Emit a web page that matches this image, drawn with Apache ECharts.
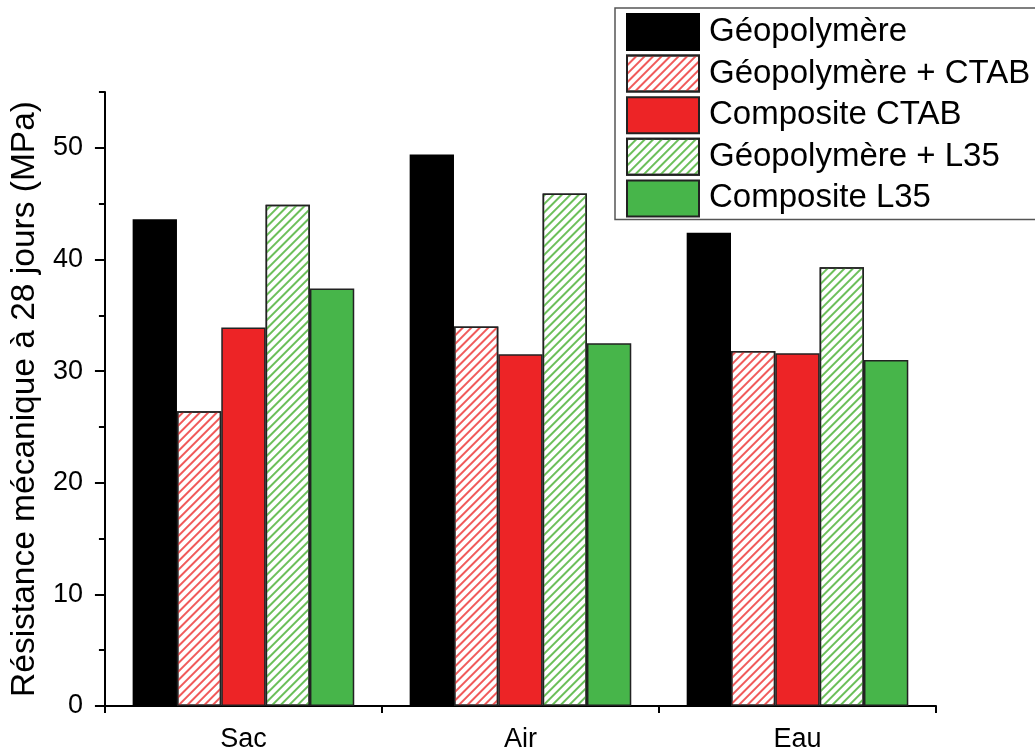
<!DOCTYPE html>
<html>
<head>
<meta charset="utf-8">
<title>Résistance mécanique</title>
<script src="https://cdn.jsdelivr.net/npm/echarts@6/dist/echarts.min.js"></script>
<style>
    html, body { margin: 0; padding: 0; background: #fff; }
    #chart { width: 1035px; height: 753px; }
</style>
</head>
<body>
<div id="chart"></div>
<script>
// 数据
var categories = ['Sac', 'Air', 'Eau'];
var seriesNames = ['Géopolymère', 'Géopolymère + CTAB', 'Composite CTAB', 'Géopolymère + L35', 'Composite L35'];
var geo = [43.6, 49.4, 42.4];
var geoCtab = [26.4, 34.0, 31.8];
var compCtab = [33.9, 31.5, 31.6];
var geoL35 = [44.9, 45.9, 39.3];
var compL35 = [37.4, 32.5, 31.0];
var yMajorTicks = [0, 10, 20, 30, 40, 50];
var yMinorTicks = [5, 15, 25, 35, 45, 55];
var xBoundaryTicks = [0, 1, 2, 3];

var fontName = '"Liberation Sans", Arial, sans-serif';

// 斜线填充
function hatch(color) {
    return {
        color: color,
        symbol: 'rect',
        dashArrayX: [1, 0],
        dashArrayY: [1.4, 3.8],
        rotation: -Math.PI / 4
    };
}

var chart = echarts.init(document.getElementById('chart'));

var barCommon = {
    type: 'bar',
    barGap: '0%',
    barCategoryGap: '20%',
    xAxisIndex: 0,
    yAxisIndex: 0
};

var option = {
    animation: false,
    backgroundColor: '#fff',
    textStyle: {
        fontFamily: fontName,
        color: '#000'
    },
    grid: {
        left: 102,
        right: 99,
        top: 92,
        bottom: 45,
        containLabel: false
    },
    legend: {
        left: 615,
        top: 8,
        orient: 'vertical',
        icon: 'rect',
        itemWidth: 72,
        itemHeight: 36,
        itemGap: 3.6,
        padding: [5, 20, 2, 11],
        borderColor: '#555',
        borderWidth: 1.5,
        backgroundColor: '#fff',
        data: seriesNames,
        textStyle: {
            fontFamily: fontName,
            fontSize: 33,
            lineHeight: 30,
            color: '#000',
            padding: [0, 0, 0, 5]
        }
    },
    xAxis: [{
        type: 'category',
        data: categories,
        boundaryGap: true,
        axisLine: { lineStyle: { color: '#000', width: 2 } },
        axisTick: { alignWithLabel: true, length: 13, lineStyle: { color: '#000', width: 2 } },
        axisLabel: { fontSize: 27, color: '#000', margin: 20, fontFamily: fontName },
        splitLine: { show: false }
    }, {
        // 分类边界的短刻度
        type: 'value',
        min: 0,
        max: 3,
        position: 'bottom',
        axisLine: { show: false },
        axisTick: { show: true, length: 7, customValues: xBoundaryTicks, lineStyle: { color: '#000', width: 2 } },
        axisLabel: { show: false },
        splitLine: { show: false }
    }],
    yAxis: [{
        type: 'value',
        min: 0,
        max: 55,
        name: 'Résistance mécanique à 28 jours (MPa)',
        nameLocation: 'middle',
        nameRotate: 90,
        nameGap: 58,
        nameTextStyle: { fontSize: 33.5, color: '#000', fontFamily: fontName },
        axisLine: { show: true, lineStyle: { color: '#000', width: 2 } },
        axisTick: { show: true, length: 10, customValues: yMajorTicks, lineStyle: { color: '#000', width: 2 } },
        axisLabel: { fontSize: 27, color: '#000', margin: 22, customValues: yMajorTicks, fontFamily: fontName },
        splitLine: { show: false }
    }, {
        // 次刻度
        type: 'value',
        min: 0,
        max: 55,
        position: 'left',
        axisLine: { show: false },
        axisTick: { show: true, length: 6, customValues: yMinorTicks, lineStyle: { color: '#000', width: 2 } },
        axisLabel: { show: false },
        splitLine: { show: false }
    }],
    series: [
        Object.assign({}, barCommon, {
            name: seriesNames[0],
            data: geo,
            itemStyle: { color: '#000', borderColor: '#000', borderWidth: 1.5 }
        }),
        Object.assign({}, barCommon, {
            name: seriesNames[1],
            data: geoCtab,
            itemStyle: { color: '#fff', borderColor: '#222', borderWidth: 1.5, decal: hatch('#f05a5a') }
        }),
        Object.assign({}, barCommon, {
            name: seriesNames[2],
            data: compCtab,
            itemStyle: { color: '#ed2426', borderColor: '#222', borderWidth: 1.5 }
        }),
        Object.assign({}, barCommon, {
            name: seriesNames[3],
            data: geoL35,
            itemStyle: { color: '#fff', borderColor: '#222', borderWidth: 1.5, decal: hatch('#6cbf5a') }
        }),
        Object.assign({}, barCommon, {
            name: seriesNames[4],
            data: compL35,
            itemStyle: { color: '#47b54a', borderColor: '#222', borderWidth: 1.5 }
        })
    ]
};

chart.setOption(option);

// 自适应
window.addEventListener('resize', function () {
    chart.resize();
});
</script>
</body>
</html>
